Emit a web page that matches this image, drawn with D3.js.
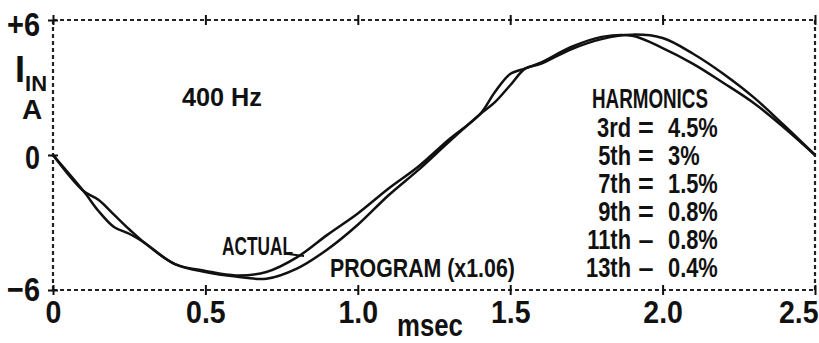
<!DOCTYPE html>
<html>
<head>
<meta charset="utf-8">
<script src="https://cdn.jsdelivr.net/npm/d3@7"></script>
<style>
  html, body { margin: 0; padding: 0; background: #fff; }
  svg text { font-family: "Liberation Sans", Arial, sans-serif; font-weight: bold; fill: #111; }
</style>
</head>
<body>
<svg id="chart" width="819" height="343"></svg>
<script>
// Input current over one 400 Hz cycle (time in ms, current in A)
const timeMs = [0, 0.1, 0.15, 0.2, 0.25, 0.3, 0.4, 0.5, 0.6, 0.7, 0.8, 0.9, 1.0, 1.1, 1.2, 1.3, 1.4, 1.45, 1.5, 1.55, 1.6, 1.7, 1.8, 1.9, 2.0, 2.1, 2.2, 2.3, 2.4, 2.5];
const actualA  = [0, -1.6, -2.5, -3.2, -3.5, -3.9, -4.85, -5.15, -5.35, -5.2, -4.55, -3.55, -2.6, -1.5, -0.5, 0.7, 1.8, 2.8, 3.6, 3.85, 4.1, 4.8, 5.25, 5.3, 4.75, 4.05, 3.2, 2.3, 1.2, 0];
const programA = [0, -1.6, -2.0, -2.65, -3.3, -3.9, -4.85, -5.2, -5.4, -5.5, -5.05, -4.2, -3.1, -1.8, -0.65, 0.6, 1.8, 2.35, 3.1, 3.85, 4.05, 4.7, 5.15, 5.35, 5.2, 4.5, 3.6, 2.55, 1.3, 0];

const xTicks = [0, 0.5, 1.0, 1.5, 2.0, 2.5];
const yTicks = [-6, 0, 6];
const yTickLabels = ["\u22126", "0", "+6"];

const harmonicOrders = ["3rd", "5th", "7th", "9th", "11th", "13th"];
const harmonicSeps   = ["=", "=", "=", "=", "\u2013", "\u2013"];
const harmonicPct    = ["4.5%", "3%", "1.5%", "0.8%", "0.8%", "0.4%"];

const svg = d3.select("#chart");
const x = d3.scaleLinear().domain([0, 2.5]).range([53, 815]);
const y = d3.scaleLinear().domain([-6, 6]).range([290, 20]);

// horizontal scaling of a text around its anchor point
function squeeze(sel, s) {
  sel.each(function () {
    const tx = +this.getAttribute("x") || 0;
    const ty = +this.getAttribute("y") || 0;
    this.setAttribute("transform", `translate(${tx},${ty}) scale(${s},1) translate(${-tx},${-ty})`);
  });
}
// squeeze a text to a given width
function fitWidth(sel, w) {
  sel.each(function () {
    squeeze(d3.select(this), w / this.getComputedTextLength());
  });
}

// dotted frame
const frame = svg.append("g")
  .attr("stroke", "#222").attr("stroke-width", 2.2).attr("stroke-dasharray", "4,3").attr("fill", "none");
frame.append("line").attr("x1", x(0)).attr("x2", x(2.5)).attr("y1", y(6)).attr("y2", y(6));
frame.append("line").attr("x1", x(0)).attr("x2", x(2.5)).attr("y1", y(-6)).attr("y2", y(-6));
frame.append("line").attr("x1", x(0)).attr("x2", x(0)).attr("y1", y(6)).attr("y2", y(-6));
frame.append("line").attr("x1", x(2.5)).attr("x2", x(2.5)).attr("y1", y(6)).attr("y2", y(-6));

// bottom axis: cross ticks and labels (last label kept inside the right edge)
const fmtX = d => d === 0 ? "0" : d3.format(".1f")(d);
const xAxis = svg.append("g")
  .attr("transform", `translate(0,${y(-6)})`)
  .call(d3.axisBottom(x).tickValues(xTicks).tickFormat(fmtX).tickSize(5));
xAxis.select(".domain").remove();
xAxis.attr("font-family", null).attr("font-size", null);
xAxis.selectAll(".tick line").attr("y1", -5).attr("y2", 5).attr("stroke", "#111").attr("stroke-width", 2);
xAxis.selectAll(".tick text")
  .attr("font-size", 31).attr("dy", 0).attr("y", 33).attr("fill", "#111")
  .attr("x", d => d === 2.5 ? 3 : 0)
  .attr("text-anchor", d => d === 2.5 ? "end" : "middle");
squeeze(xAxis.selectAll(".tick text"), 0.92);

// top ticks
const xTop = svg.append("g")
  .attr("transform", `translate(0,${y(6)})`)
  .call(d3.axisTop(x).tickValues(xTicks).tickFormat("").tickSize(5));
xTop.select(".domain").remove();
xTop.selectAll(".tick line").attr("y1", -5).attr("y2", 5).attr("stroke", "#111").attr("stroke-width", 2);

// left axis
const yAxis = svg.append("g")
  .attr("transform", `translate(${x(0)},0)`)
  .call(d3.axisLeft(y).tickValues(yTicks).tickFormat((d, i) => yTickLabels[i]).tickSize(5).tickPadding(8));
yAxis.select(".domain").remove();
yAxis.attr("font-family", null).attr("font-size", null);
yAxis.selectAll(".tick line").attr("x1", -5).attr("x2", 5).attr("stroke", "#111").attr("stroke-width", 2);
yAxis.selectAll(".tick text")
  .attr("font-size", 34).attr("fill", "#111").attr("dy", 0)
  .attr("y", d => d === 6 ? 15 : d === 0 ? 13 : 10);
fitWidth(yAxis.selectAll(".tick text").filter(d => d !== 0), 33);
fitWidth(yAxis.selectAll(".tick text").filter(d => d === 0), 15);

// waveforms
const line = d3.line()
  .x((d, i) => x(timeMs[i]))
  .y(d => y(d))
  .curve(d3.curveCatmullRom.alpha(0.5));
svg.append("path").datum(actualA)
  .attr("d", line).attr("fill", "none").attr("stroke", "#111").attr("stroke-width", 2.5);
svg.append("path").datum(programA)
  .attr("d", line).attr("fill", "none").attr("stroke", "#111").attr("stroke-width", 2.5);

// axis titles
const yTitle = svg.append("text").attr("x", 15).attr("y", 82).attr("font-size", 36);
yTitle.append("tspan").text("I");
yTitle.append("tspan").attr("font-size", 22).attr("dy", 9).text("IN");
svg.append("text").attr("x", 22).attr("y", 119).attr("font-size", 28).text("A");
fitWidth(svg.append("text").attr("x", 397).attr("y", 336).attr("font-size", 31).text("msec"), 66);

// annotations
fitWidth(svg.append("text").attr("x", 182).attr("y", 106).attr("font-size", 26).text("400 Hz"), 80);
fitWidth(svg.append("text").attr("x", 222).attr("y", 255).attr("font-size", 26).text("ACTUAL"), 71);
svg.append("line").attr("x1", 288).attr("y1", 254).attr("x2", 304).attr("y2", 256)
  .attr("stroke", "#111").attr("stroke-width", 2);
fitWidth(svg.append("text").attr("x", 330).attr("y", 277).attr("font-size", 26).text("PROGRAM (x1.06)"), 185);

// harmonic content table
fitWidth(svg.append("text").attr("x", 592).attr("y", 108).attr("font-size", 28).text("HARMONICS"), 116);
const rows = svg.append("g").selectAll("g").data(harmonicOrders).join("g")
  .attr("transform", (d, i) => `translate(0,${137 + i * 28})`)
  .attr("font-size", 27);
squeeze(rows.append("text").attr("x", 631).attr("y", 0).attr("text-anchor", "end").text(d => d), 0.81);
squeeze(rows.append("text").attr("x", 646).attr("y", 0).attr("text-anchor", "middle").text((d, i) => harmonicSeps[i]), 1);
squeeze(rows.append("text").attr("x", 668).attr("y", 0).text((d, i) => harmonicPct[i]), 0.81);
</script>
</body>
</html>
